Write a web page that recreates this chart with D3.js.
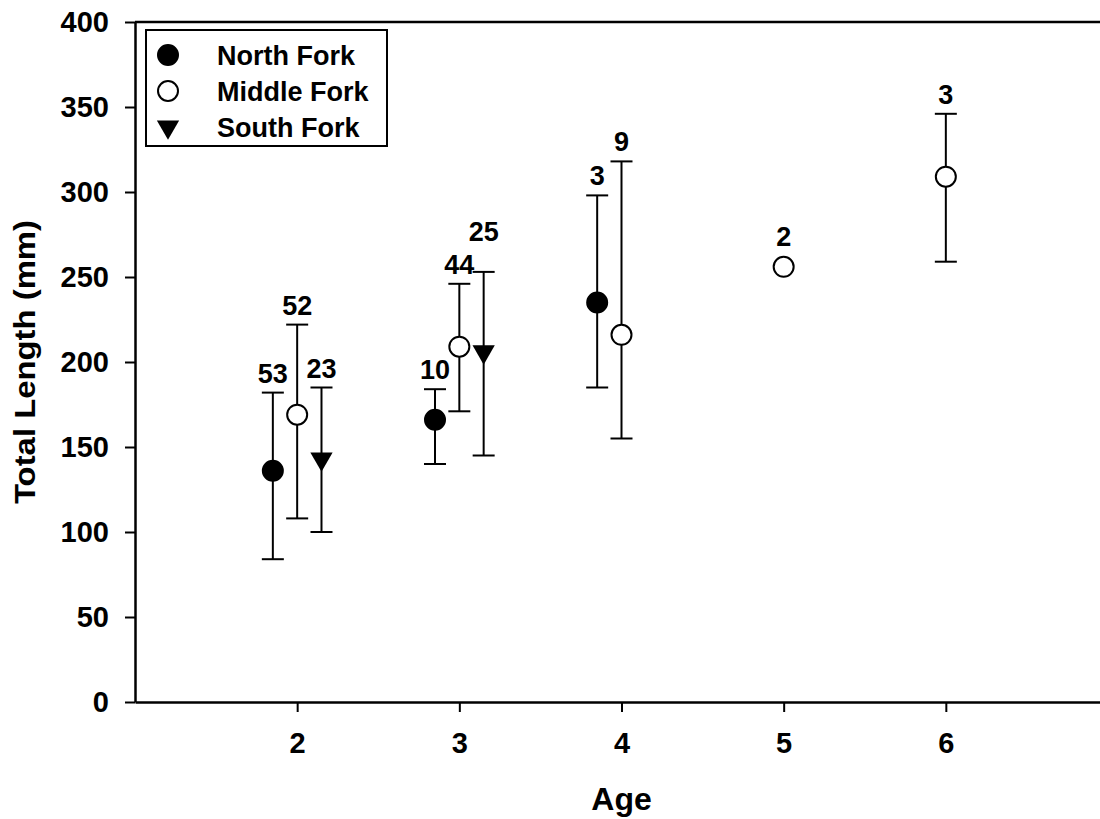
<!DOCTYPE html>
<html>
<head>
<meta charset="utf-8">
<script src="https://cdn.jsdelivr.net/npm/d3@7"></script>
<style>
  body { margin: 0; background: #fff; }
  text { font-family: "Liberation Sans", Arial, sans-serif; font-weight: bold; fill: #000; }
</style>
</head>
<body>
<script>
// Data.
const xTicks = [2, 3, 4, 5, 6];
const yTicks = [0, 50, 100, 150, 200, 250, 300, 350, 400];

const northAge = [2, 3, 4];
const northMean = [136, 166, 235];
const northLow = [84, 140, 185];
const northHigh = [182, 184, 298];
const northN = [53, 10, 3];

const middleAge = [2, 3, 4, 5, 6];
const middleMean = [169, 209, 216, 256, 309];
const middleLow = [108, 171, 155, null, 259];
const middleHigh = [222, 246, 318, null, 346];
const middleN = [52, 44, 9, 2, 3];

const southAge = [2, 3];
const southMean = [143, 206];
const southLow = [100, 145];
const southHigh = [185, 253];
const southN = [23, 25];

const width = 1100;
const height = 819;

const xScale = d3.scaleLinear().domain([1, 7]).range([135, 1108]);
const yScale = d3.scaleLinear().domain([0, 400]).range([702, 22]);

const svg = d3.select('body')
  .append('svg')
  .attr('width', width)
  .attr('height', height);

// Build series from the arrays.
function makeSeries(name, ages, mean, low, high, n, offset, shape)
{
  return {
    name: name,
    shape: shape,
    points: ages.map((a, i) => ({ x: a + offset, y: mean[i], lo: low[i], hi: high[i], n: n[i] }))
  };
}

const series = [
  makeSeries('North Fork', northAge, northMean, northLow, northHigh, northN, -0.15, 'filled'),
  makeSeries('Middle Fork', middleAge, middleMean, middleLow, middleHigh, middleN, 0, 'open'),
  makeSeries('South Fork', southAge, southMean, southLow, southHigh, southN, 0.15, 'triangle')
];

const triangle = d3.symbol().type(d3.symbolTriangle).size(215);

function drawSymbol(g, shape)
{
  if (shape == 'triangle')
  {
    g.append('path')
      .attr('d', triangle())
      .attr('transform', 'rotate(180)')
      .attr('fill', '#000');
  }
  else
  {
    g.append('circle')
      .attr('r', 10)
      .attr('fill', shape == 'filled' ? '#000' : '#fff')
      .attr('stroke', '#000')
      .attr('stroke-width', 2);
  }
}

// Axes.
const xAxis = d3.axisBottom(xScale)
  .tickValues(xTicks)
  .tickFormat(d3.format('d'))
  .tickSize(10)
  .tickSizeOuter(0)
  .tickPadding(20);
const yAxis = d3.axisLeft(yScale)
  .tickValues(yTicks)
  .tickFormat(d3.format('d'))
  .tickSize(10)
  .tickSizeOuter(0)
  .tickPadding(16);

const gx = svg.append('g')
  .attr('transform', 'translate(0,' + yScale(0) + ')')
  .call(xAxis);
const gy = svg.append('g')
  .attr('transform', 'translate(' + xScale(1) + ',0)')
  .call(yAxis);

[gx, gy].forEach((g) =>
{
  g.selectAll('path.domain').attr('stroke', '#000').attr('stroke-width', 2.5);
  g.selectAll('.tick line').attr('stroke', '#000').attr('stroke-width', 2);
  g.selectAll('.tick text')
    .style('font-family', '"Liberation Sans", Arial, sans-serif')
    .style('font-weight', 'bold')
    .style('font-size', '29px')
    .attr('fill', '#000');
});

// Top frame line.
svg.append('line')
  .attr('x1', xScale(1)).attr('x2', xScale(7))
  .attr('y1', yScale(400)).attr('y2', yScale(400))
  .attr('stroke', '#000')
  .attr('stroke-width', 2.5);

// Error bars, symbols and n labels.
const labels = [];
series.forEach((s) =>
{
  const g = svg.append('g');
  s.points.forEach((p) =>
  {
    const cx = xScale(p.x);
    if (p.hi != null)
    {
      g.append('line')
        .attr('x1', cx).attr('x2', cx)
        .attr('y1', yScale(p.lo)).attr('y2', yScale(p.hi))
        .attr('stroke', '#000').attr('stroke-width', 2);
      [p.lo, p.hi].forEach((v) =>
      {
        g.append('line')
          .attr('x1', cx - 11).attr('x2', cx + 11)
          .attr('y1', yScale(v)).attr('y2', yScale(v))
          .attr('stroke', '#000').attr('stroke-width', 2);
      });
    }
    const sym = g.append('g').attr('transform', 'translate(' + cx + ',' + yScale(p.y) + ')');
    drawSymbol(sym, s.shape);

    const top = p.hi != null ? yScale(p.hi) : yScale(p.y) - 11;
    const t = g.append('text')
      .attr('x', cx)
      .attr('y', top - 10)
      .attr('text-anchor', 'middle')
      .style('font-size', '27px')
      .text(p.n);
    labels.push(t);
  });
});

// Lift a label above any earlier one it collides with.
labels.forEach((t, i) =>
{
  for (let j = 0; j < i; j++)
  {
    const a = t.node().getBBox();
    const b = labels[j].node().getBBox();
    const hit = a.x < b.x + b.width && b.x < a.x + a.width &&
                a.y < b.y + b.height && b.y < a.y + a.height;
    if (hit)
    {
      t.attr('y', b.y + 1 - 10);
    }
  }
});

// Axis titles.
svg.append('text')
  .attr('x', (xScale(1) + xScale(7)) / 2)
  .attr('y', 810)
  .attr('text-anchor', 'middle')
  .style('font-size', '32px')
  .text('Age');

svg.append('text')
  .attr('transform', 'translate(35,' + yScale(200) + ') rotate(-90)')
  .attr('text-anchor', 'middle')
  .attr('textLength', 284)
  .attr('lengthAdjust', 'spacingAndGlyphs')
  .style('font-size', '30px')
  .text('Total Length (mm)');

// Legend.
const legend = svg.append('g');
legend.append('rect')
  .attr('x', 146).attr('y', 30)
  .attr('width', 241).attr('height', 116)
  .attr('fill', '#fff')
  .attr('stroke', '#000')
  .attr('stroke-width', 2);

series.forEach((s, i) =>
{
  const row = legend.append('g').attr('transform', 'translate(168,' + (55 + i * 36) + ')');
  drawSymbol(row, s.shape);
  row.append('text')
    .attr('x', 49)
    .attr('y', 0)
    .attr('dy', '0.36em')
    .style('font-size', '27px')
    .text(s.name);
});
</script>
</body>
</html>
